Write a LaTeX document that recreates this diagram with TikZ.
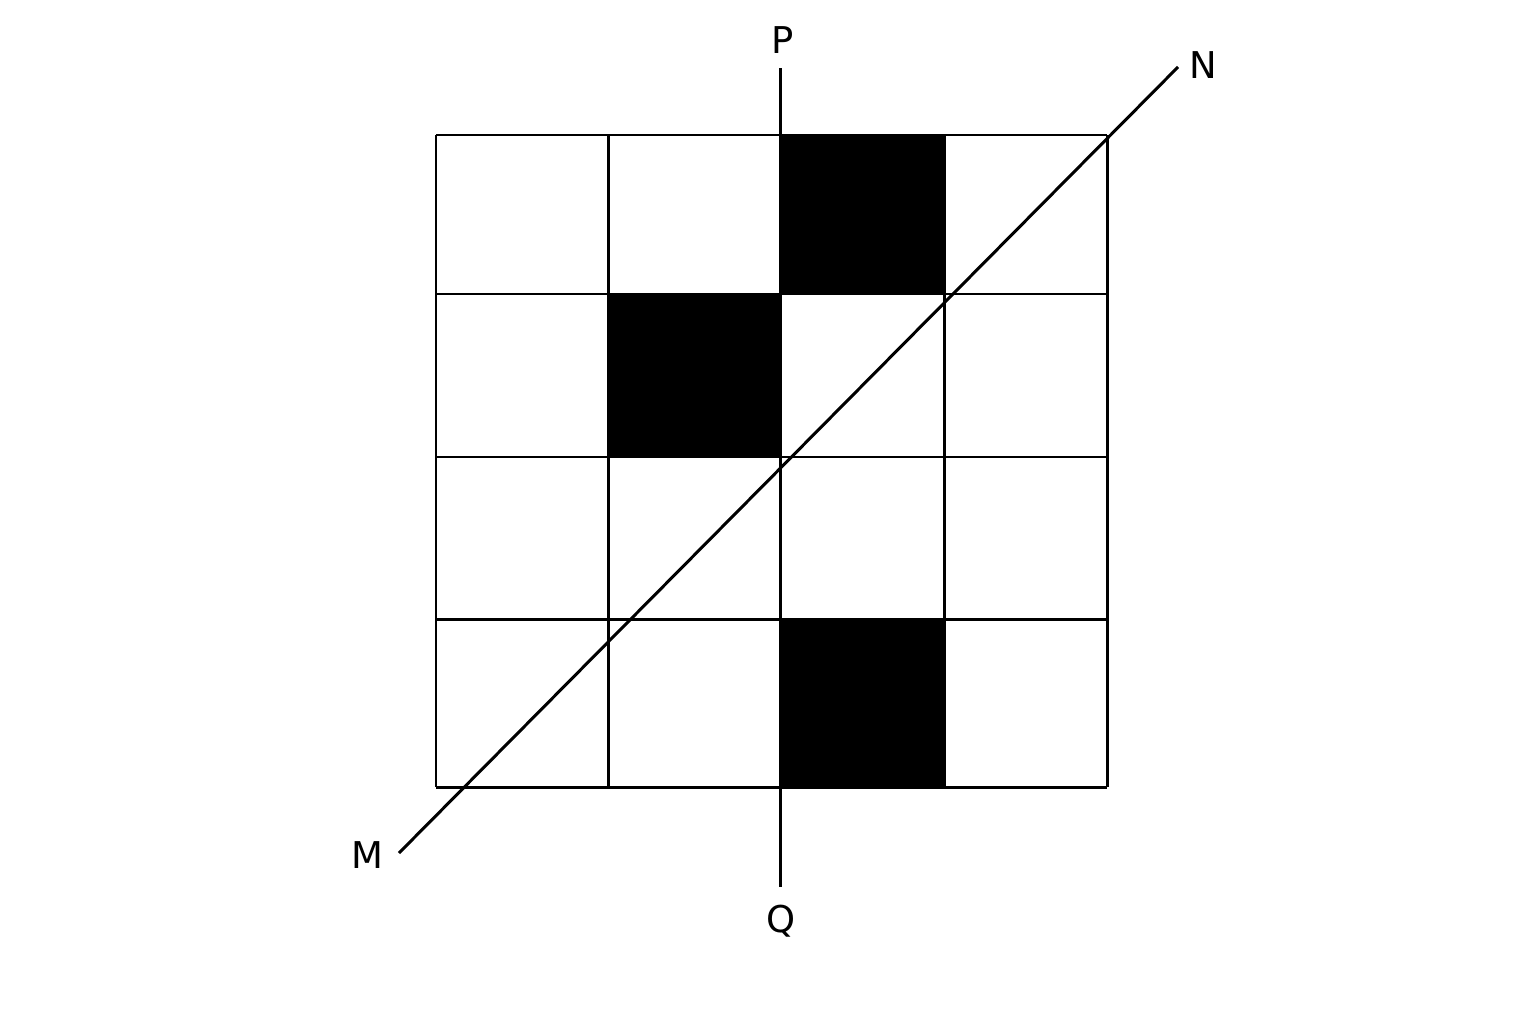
\documentclass[tikz,border=0pt]{standalone}
\usepackage{fontspec}
\setmainfont{DejaVu Sans}
\begin{document}
\begin{tikzpicture}[x=0.01cm,y=-0.01cm,line width=0.85pt,
  lbl/.style={font=\fontsize{10.5}{12}\selectfont,inner sep=0pt}]
\useasboundingbox (0,0) rectangle (1536,1024);
% filled cells
\fill (780,135) rectangle (944,294);
\fill (608,294) rectangle (780,457);
\fill (780,619) rectangle (944,787);
% grid
\foreach \x in {436,608,780,944,1107}
  \draw (\x,135) -- (\x,787);
\foreach \y in {135,294,457,619,787}
  \draw (436,\y) -- (1107,\y);
% axes
\coordinate (ptop) at (780,68);
\coordinate (qbot) at (780,887);
\coordinate (mend) at (399,853);
\coordinate (nend) at (1178,67);
\draw (ptop) -- (qbot);
\draw (mend) -- (nend);
\node[lbl] (P) at (783,40) {P};
\node[lbl] (Q) at (781,921) {Q};
\node[lbl] (M) at (367,855) {M};
\node[lbl] (N) at (1203,65) {N};
\end{tikzpicture}
\end{document}
